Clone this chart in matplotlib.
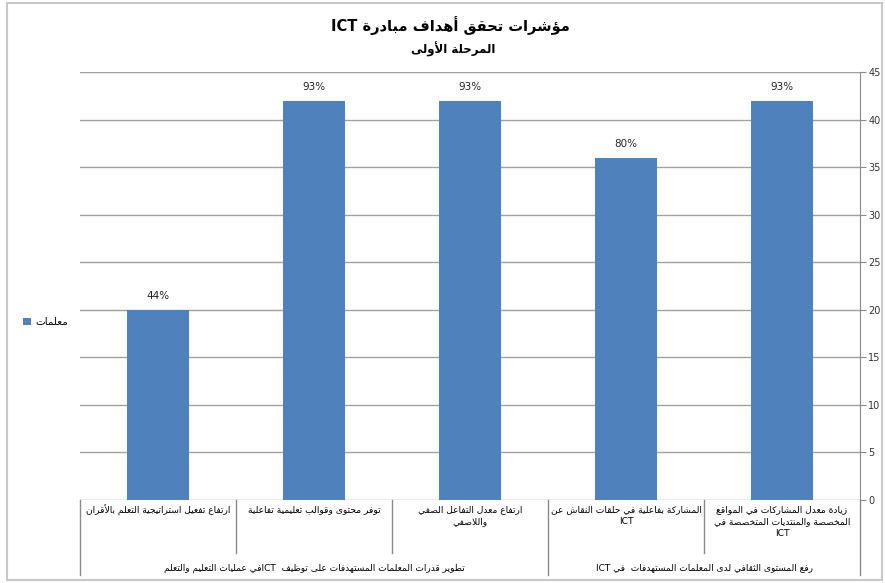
import re
import numpy as np
import matplotlib
matplotlib.use('Agg')
import matplotlib.pyplot as plt
from matplotlib.patches import Rectangle
import matplotlib.transforms as mtransforms

# chart data
categories = [
    'ارتفاع تفعيل استراتيجية التعلم بالأقران',
    'توفر محتوى وقوالب تعليمية تفاعلية',
    'ارتفاع معدل التفاعل الصفي\nواللاصفي',
    'المشاركة بفاعلية في حلقات النقاش عن\nICT',
    'زيادة معدل المشاركات في المواقع\nالمخصصة والمنتديات المتخصصة في\nICT',
]
values = [20, 42, 42, 36, 42]
pct_labels = ['44%', '93%', '93%', '80%', '93%']
group_names = [
    'تطوير قدرات المعلمات المستهدفات على توظيف  ICTفي عمليات التعليم والتعلم',
    'رفع المستوى الثقافي لدى المعلمات المستهدفات  في ICT',
]
group_spans = [(0, 2), (3, 4)]
series_name = 'معلمات'
title = 'مؤشرات تحقق أهداف مبادرة ICT'
subtitle = 'المرحلة الأولى'
yticks = list(range(0, 50, 5))

# --- minimal Arabic shaping + RTL ordering (matplotlib doesn't do it) ---
_order = [('آ', 2), ('أ', 2), ('ؤ', 2), ('إ', 2), ('ئ', 4), ('ا', 2), ('ب', 4), ('ة', 2),
          ('ت', 4), ('ث', 4), ('ج', 4), ('ح', 4), ('خ', 4), ('د', 2), ('ذ', 2), ('ر', 2),
          ('ز', 2), ('س', 4), ('ش', 4), ('ص', 4), ('ض', 4), ('ط', 4), ('ظ', 4), ('ع', 4),
          ('غ', 4), ('ف', 4), ('ق', 4), ('ك', 4), ('ل', 4), ('م', 4), ('ن', 4), ('ه', 4),
          ('و', 2), ('ى', 2), ('ي', 4)]
FORMS = {}
code = 0xFE81
for ch, n in _order:
    FORMS[ch] = [chr(code + k) for k in range(n)]
    code += n
FORMS['ء'] = ['\uFE80']
LAM_ALEF = {'آ': 0xFEF5, 'أ': 0xFEF7, 'إ': 0xFEF9, 'ا': 0xFEFB}


def shape(text):
    out = []
    i = 0
    prev_joins = False
    while i < len(text):
        c = text[i]
        if c == 'ل' and i + 1 < len(text) and text[i + 1] in LAM_ALEF:
            out.append(chr(LAM_ALEF[text[i + 1]] + (1 if prev_joins else 0)))
            prev_joins = False
            i += 2
            continue
        if c in FORMS:
            f = FORMS[c]
            nxt = text[i + 1] if i + 1 < len(text) else ''
            next_joins = len(f) == 4 and nxt in FORMS and nxt != 'ء'
            if len(f) == 1:
                idx = 0
            elif prev_joins and next_joins:
                idx = 3
            elif next_joins:
                idx = 2
            elif prev_joins:
                idx = 1
            else:
                idx = 0
            out.append(f[idx])
            prev_joins = len(f) == 4
        else:
            out.append(c)
            prev_joins = False
        i += 1
    return ''.join(out)


def ar(text):
    res = []
    for line in text.split('\n'):
        parts = re.split(r'([A-Za-z0-9%]+)', shape(line))
        res.append(''.join(p if re.fullmatch(r'[A-Za-z0-9%]+', p) else p[::-1]
                           for p in reversed(parts)))
    return '\n'.join(res)


plt.rcParams['font.family'] = ['DejaVu Sans']

W, H = 885, 583
fig = plt.figure(figsize=(W / 100, H / 100), dpi=100)

# outer chart border
fig.patches.append(Rectangle((7 / W, 1 - 580 / H), 875 / W, 577 / H, transform=fig.transFigure,
                             fill=False, edgecolor='#c8c8c8', linewidth=1.5))

x0, x1, ytop, ybot = 80, 860, 72, 500
ax = fig.add_axes([x0 / W, 1 - ybot / H, (x1 - x0) / W, (ybot - ytop) / H])

x = np.arange(len(values))
bars = ax.bar(x, values, width=0.4, color='#4f81bd', zorder=3)
for xi, v, lab in zip(x, values, pct_labels):
    ax.annotate(lab, (xi, v), xytext=(0, 6), textcoords='offset points',
                ha='center', va='bottom', fontsize=7.5, color='#222222')

ax.set_xlim(-0.5, len(values) - 0.5)
ax.set_ylim(0, 45)
ax.set_yticks(yticks)
ax.yaxis.tick_right()
ax.tick_params(axis='y', direction='out', length=4, color='#8a8a8a', labelsize=7,
               labelcolor='#333333', pad=2)
ax.set_xticks([])
ax.grid(axis='y', color='#a0a0a0', linewidth=1, zorder=0)
for s in ['top', 'left', 'bottom']:
    ax.spines[s].set_visible(False)
ax.spines['right'].set_color('#8a8a8a')

# category table below the axis
trans = mtransforms.blended_transform_factory(ax.transData, ax.transAxes)
axh = ybot - ytop
def yfrac(py):
    return -(py - ybot) / axh

line_kw = dict(color='#8a8a8a', linewidth=1, transform=trans, clip_on=False)
group_edges = {-0.5, 2.5, 4.5}
for b in np.arange(-0.5, len(values), 1.0):
    bottom = 575 if b in group_edges else 553
    ax.plot([b, b], [0, yfrac(bottom)], **line_kw)

for xi, cat in zip(x, categories):
    ax.text(xi, yfrac(505), ar(cat), transform=trans, ha='center', va='top',
            fontsize=6.6, linespacing=1.45, multialignment='center', color='#000000')

for name, (a, b) in zip(group_names, group_spans):
    ax.text((a + b) / 2, yfrac(568), ar(name), transform=trans, ha='center', va='center',
            fontsize=6.5, color='#000000')

# legend
fig.legend([bars], [ar(series_name)], loc='center left',
           bbox_to_anchor=(14 / W, 1 - 322 / H), frameon=False, fontsize=7.5,
           handlelength=0.7, handleheight=0.7, handletextpad=0.5)

fig.text(450 / W, 1 - 26 / H, ar(title), ha='center', va='center', fontsize=10.5,
         fontweight='bold')
fig.text(453 / W, 1 - 49 / H, ar(subtitle), ha='center', va='center', fontsize=8.5,
         fontweight='bold')

plt.savefig('out.png', dpi=100)
